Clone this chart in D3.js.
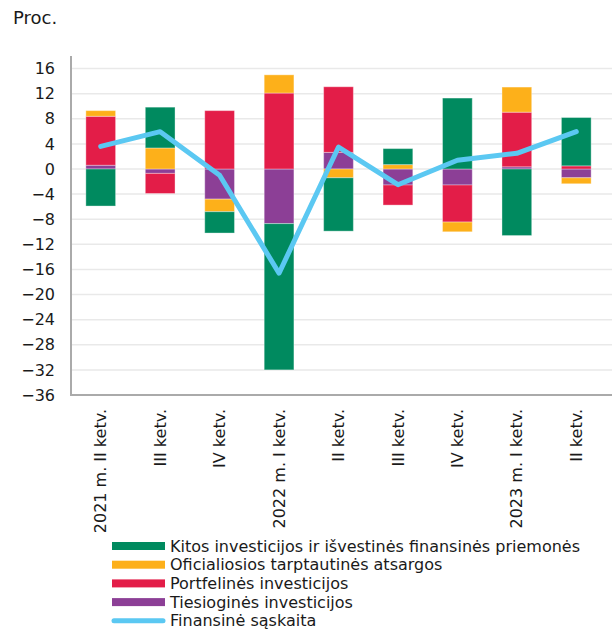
<!DOCTYPE html>
<html>
<head>
<meta charset="utf-8">
<script src="https://cdn.jsdelivr.net/npm/d3@7"></script>
<style>
  body { margin: 0; background: #fff; }
  text { font-family: "DejaVu Sans", Verdana, sans-serif; fill: #1a1a1a; }
</style>
</head>
<body>
<svg id="chart"></svg>
<script>
// Ketvirčiai
var categories = ['2021 m. II ketv.', 'III ketv.', 'IV ketv.', '2022 m. I ketv.', 'II ketv.',
  'III ketv.', 'IV ketv.', '2023 m. I ketv.', 'II ketv.'];

// Serijos (proc.)
var kitos = [-5.9, 6.5, -3.4, -23.3, -8.5, 2.55, 11.3, -10.6, 7.7];
var oficialiosios = [0.9, 3.35, -2.0, 2.9, -1.4, 0.7, -1.55, 4.0, -0.95];
var portfelines = [7.8, -3.2, 9.3, 12.1, 10.45, -3.2, -5.9, 8.7, 0.5];
var tiesiogines = [0.6, -0.7, -4.8, -8.7, 2.65, -2.55, -2.55, 0.35, -1.4];
var finansine = [3.6, 5.95, -1.0, -16.6, 3.5, -2.5, 1.4, 2.5, 5.95];

var yTicks = [-36, -32, -28, -24, -20, -16, -12, -8, -4, 0, 4, 8, 12, 16];

var seriesNames = ['Kitos investicijos ir išvestinės finansinės priemonės',
  'Oficialiosios tarptautinės atsargos', 'Portfelinės investicijos', 'Tiesioginės investicijos'];
var seriesColors = ['#008a5f', '#fdb01a', '#e31d48', '#8c3f96'];
var lineName = 'Finansinė sąskaita';
var lineColor = '#5bc8f2';

var width = 612, height = 632;
var margin = {left: 71, right: 6, top: 56, bottom: 237};

var svg = d3.select('#chart').attr('width', width).attr('height', height);

var x = d3.scaleBand()
  .domain(d3.range(categories.length))
  .range([margin.left, width - margin.right])
  .paddingInner(0.5).paddingOuter(0.25);

var y = d3.scaleLinear()
  .domain([-36, 18])
  .range([height - margin.bottom, margin.top]);

// grid
svg.append('g').selectAll('line')
  .data(yTicks)
  .enter().append('line')
  .attr('x1', margin.left).attr('x2', width)
  .attr('y1', function (d) { return y(d); })
  .attr('y2', function (d) { return y(d); })
  .attr('stroke', '#e9e9e9').attr('stroke-width', 1.5);

// y axis labels
var yAxis = svg.append('g')
  .attr('transform', 'translate(' + margin.left + ',0)')
  .call(d3.axisLeft(y).tickValues(yTicks).tickSize(0).tickPadding(16)
    .tickFormat(function (d) { return d < 0 ? '\u2212' + Math.abs(d) : d; }));
yAxis.select('.domain').remove();
yAxis.selectAll('text').style('font-size', '16px').style('font-family', '"DejaVu Sans", Verdana, sans-serif').attr('fill', '#1a1a1a');

// stacked bars
var rows = categories.map(function (c, i) {
  return {i: i, k: kitos[i], o: oficialiosios[i], p: portfelines[i], t: tiesiogines[i]};
});
var keys = ['t', 'p', 'o', 'k'];
var keyColor = {k: seriesColors[0], o: seriesColors[1], p: seriesColors[2], t: seriesColors[3]};
var stacked = d3.stack().keys(keys).offset(d3.stackOffsetDiverging)(rows);

svg.append('g').selectAll('g')
  .data(stacked)
  .enter().append('g')
  .attr('fill', function (s) { return keyColor[s.key]; })
  .selectAll('rect')
  .data(function (s) { return s; })
  .enter().append('rect')
  .attr('x', function (d) { return x(d.data.i); })
  .attr('width', x.bandwidth())
  .attr('y', function (d) { return y(Math.max(d[0], d[1])); })
  .attr('height', function (d) { return Math.abs(y(d[0]) - y(d[1])); })
  .attr('stroke', '#fff').attr('stroke-opacity', 0.35).attr('stroke-width', 1);

// line
var line = d3.line()
  .x(function (d, i) { return x(i) + x.bandwidth() / 2; })
  .y(function (d) { return y(d); });

svg.append('path')
  .datum(finansine)
  .attr('d', line)
  .attr('fill', 'none')
  .attr('stroke', lineColor)
  .attr('stroke-width', 5)
  .attr('stroke-linecap', 'round')
  .attr('stroke-linejoin', 'round');

// axes lines
svg.append('line')
  .attr('x1', margin.left).attr('x2', margin.left)
  .attr('y1', margin.top).attr('y2', y(-36))
  .attr('stroke', '#aaa').attr('stroke-width', 2);
svg.append('line')
  .attr('x1', margin.left - 1).attr('x2', width)
  .attr('y1', y(-36)).attr('y2', y(-36))
  .attr('stroke', '#aaa').attr('stroke-width', 2);

// x labels
svg.append('g').selectAll('text')
  .data(categories)
  .enter().append('text')
  .attr('transform', function (d, i) {
    return 'translate(' + (x(i) + x.bandwidth() / 2) + ',' + (y(-36) + 14) + ') rotate(-90)';
  })
  .attr('text-anchor', 'end')
  .attr('dy', '0.35em')
  .style('font-size', '16px')
  .text(function (d) { return d; });

// title
svg.append('text')
  .attr('x', 13).attr('y', 24)
  .style('font-size', '18px')
  .text('Proc.');

// legend
var legend = svg.append('g').attr('transform', 'translate(112,546)');
var legendItems = seriesNames.map(function (n, i) { return {name: n, color: seriesColors[i], line: false}; });
legendItems.push({name: lineName, color: lineColor, line: true});

var li = legend.selectAll('g')
  .data(legendItems)
  .enter().append('g')
  .attr('transform', function (d, i) { return 'translate(0,' + (i * 18.7) + ')'; });

li.each(function (d) {
  var g = d3.select(this);
  if (d.line) {
    g.append('line').attr('x1', 2).attr('x2', 51).attr('y1', 0).attr('y2', 0)
      .attr('stroke', d.color).attr('stroke-width', 5).attr('stroke-linecap', 'round');
  } else {
    g.append('rect').attr('x', 0).attr('y', -4).attr('width', 53).attr('height', 8)
      .attr('fill', d.color);
  }
});

li.append('text')
  .attr('x', 58).attr('dy', '0.35em')
  .style('font-size', '16px')
  .text(function (d) { return d.name; });
</script>
</body>
</html>
